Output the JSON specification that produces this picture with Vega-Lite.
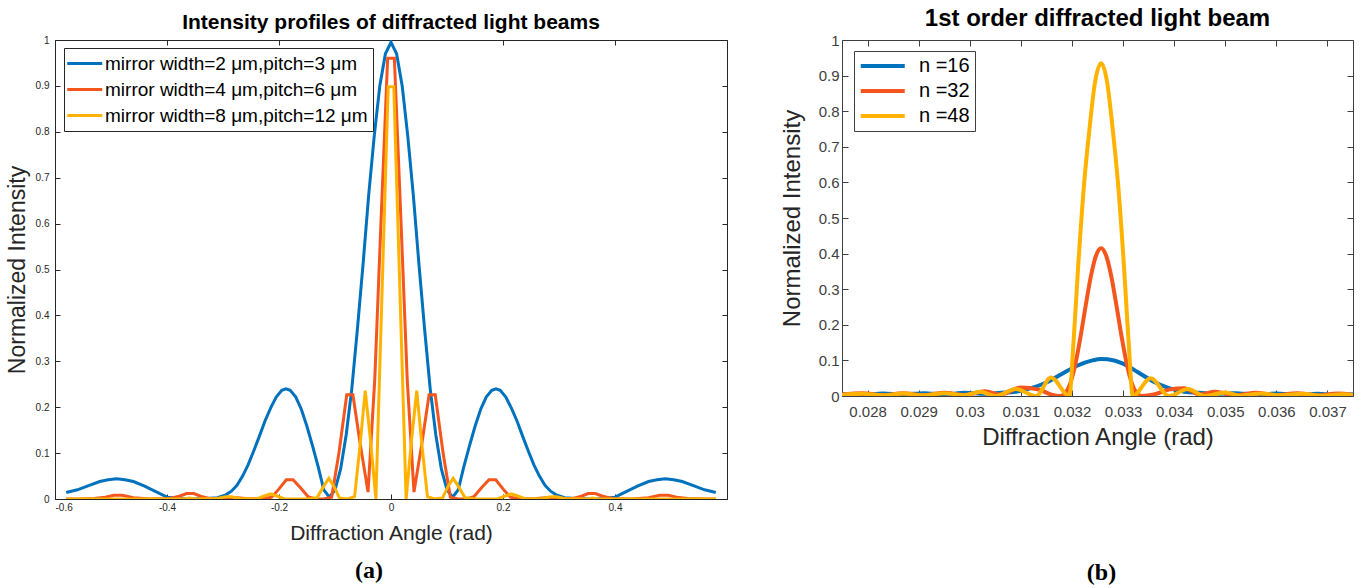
{
  "$schema": "https://vega.github.io/schema/vega-lite/v6.json",
  "background": "white",
  "padding": {"left": 5, "top": 6, "right": 0, "bottom": 0},
  "config": {
    "font": "Liberation Sans",
    "view": {"stroke": null},
    "axis": {"grid": false, "domainColor": "#262626", "tickColor": "#262626", "labelColor": "#262626", "titleColor": "#262626", "titleFontWeight": "normal", "labelFont": "Liberation Sans", "titleFont": "Liberation Sans"},
    "title": {"font": "Liberation Sans", "fontWeight": "bold", "color": "#000", "anchor": "middle"}
  },
  "resolve": {"scale": {"color": "independent"}, "legend": {"color": "independent"}},
  "datasets": {
    "left": [
      {"s":"a","x":-0.58,"y":0.014},{"s":"a","x":-0.56,"y":0.02},{"s":"a","x":-0.54,"y":0.029},{"s":"a","x":-0.52,"y":0.038},{"s":"a","x":-0.505,"y":0.042},{"s":"a","x":-0.49,"y":0.044},{"s":"a","x":-0.475,"y":0.042},{"s":"a","x":-0.46,"y":0.038},{"s":"a","x":-0.44,"y":0.028},{"s":"a","x":-0.42,"y":0.016},{"s":"a","x":-0.40,"y":0.004},{"s":"a","x":-0.38,"y":0.001},{"s":"a","x":-0.36,"y":0.0},{"s":"a","x":-0.33,"y":0.001},{"s":"a","x":-0.31,"y":0.003},{"s":"a","x":-0.295,"y":0.009},{"s":"a","x":-0.285,"y":0.017},{"s":"a","x":-0.275,"y":0.03},{"s":"a","x":-0.265,"y":0.05},{"s":"a","x":-0.255,"y":0.075},{"s":"a","x":-0.245,"y":0.105},{"s":"a","x":-0.235,"y":0.137},{"s":"a","x":-0.225,"y":0.17},{"s":"a","x":-0.215,"y":0.198},{"s":"a","x":-0.205,"y":0.222},{"s":"a","x":-0.195,"y":0.237},{"s":"a","x":-0.1875,"y":0.24},{"s":"a","x":-0.18,"y":0.237},{"s":"a","x":-0.17,"y":0.222},{"s":"a","x":-0.16,"y":0.195},{"s":"a","x":-0.15,"y":0.158},{"s":"a","x":-0.14,"y":0.115},{"s":"a","x":-0.13,"y":0.07},{"s":"a","x":-0.12,"y":0.02},{"s":"a","x":-0.11,"y":0.004},{"s":"a","x":-0.10,"y":0.02},{"s":"a","x":-0.09,"y":0.065},{"s":"a","x":-0.08,"y":0.14},{"s":"a","x":-0.07,"y":0.24},{"s":"a","x":-0.06,"y":0.37},{"s":"a","x":-0.05,"y":0.51},{"s":"a","x":-0.04,"y":0.66},{"s":"a","x":-0.03,"y":0.79},{"s":"a","x":-0.02,"y":0.9},{"s":"a","x":-0.01,"y":0.97},{"s":"a","x":0,"y":0.995},{"s":"a","x":0.01,"y":0.97},{"s":"a","x":0.02,"y":0.9},{"s":"a","x":0.03,"y":0.79},{"s":"a","x":0.04,"y":0.66},{"s":"a","x":0.05,"y":0.51},{"s":"a","x":0.06,"y":0.37},{"s":"a","x":0.07,"y":0.24},{"s":"a","x":0.08,"y":0.14},{"s":"a","x":0.09,"y":0.065},{"s":"a","x":0.10,"y":0.02},{"s":"a","x":0.11,"y":0.004},{"s":"a","x":0.12,"y":0.02},{"s":"a","x":0.13,"y":0.07},{"s":"a","x":0.14,"y":0.115},{"s":"a","x":0.15,"y":0.158},{"s":"a","x":0.16,"y":0.195},{"s":"a","x":0.17,"y":0.222},{"s":"a","x":0.18,"y":0.237},{"s":"a","x":0.1875,"y":0.24},{"s":"a","x":0.195,"y":0.237},{"s":"a","x":0.205,"y":0.222},{"s":"a","x":0.215,"y":0.198},{"s":"a","x":0.225,"y":0.17},{"s":"a","x":0.235,"y":0.137},{"s":"a","x":0.245,"y":0.105},{"s":"a","x":0.255,"y":0.075},{"s":"a","x":0.265,"y":0.05},{"s":"a","x":0.275,"y":0.03},{"s":"a","x":0.285,"y":0.017},{"s":"a","x":0.295,"y":0.009},{"s":"a","x":0.31,"y":0.003},{"s":"a","x":0.33,"y":0.001},{"s":"a","x":0.36,"y":0.0},{"s":"a","x":0.38,"y":0.001},{"s":"a","x":0.40,"y":0.004},{"s":"a","x":0.42,"y":0.016},{"s":"a","x":0.44,"y":0.028},{"s":"a","x":0.46,"y":0.038},{"s":"a","x":0.475,"y":0.042},{"s":"a","x":0.49,"y":0.044},{"s":"a","x":0.505,"y":0.042},{"s":"a","x":0.52,"y":0.038},{"s":"a","x":0.54,"y":0.029},{"s":"a","x":0.56,"y":0.02},{"s":"a","x":0.58,"y":0.014},
      {"s":"b","x":-0.58,"y":0.0},{"s":"b","x":-0.56,"y":0.0},{"s":"b","x":-0.53,"y":0.001},{"s":"b","x":-0.51,"y":0.004},{"s":"b","x":-0.495,"y":0.008},{"s":"b","x":-0.48,"y":0.008},{"s":"b","x":-0.46,"y":0.003},{"s":"b","x":-0.43,"y":0.0},{"s":"b","x":-0.395,"y":0.001},{"s":"b","x":-0.378,"y":0.006},{"s":"b","x":-0.365,"y":0.012},{"s":"b","x":-0.352,"y":0.012},{"s":"b","x":-0.34,"y":0.006},{"s":"b","x":-0.325,"y":0.001},{"s":"b","x":-0.30,"y":0.001},{"s":"b","x":-0.28,"y":0.003},{"s":"b","x":-0.26,"y":0.001},{"s":"b","x":-0.23,"y":0.0},{"s":"b","x":-0.213,"y":0.004},{"s":"b","x":-0.20,"y":0.022},{"s":"b","x":-0.187,"y":0.042},{"s":"b","x":-0.175,"y":0.042},{"s":"b","x":-0.162,"y":0.025},{"s":"b","x":-0.148,"y":0.005},{"s":"b","x":-0.135,"y":0.0},{"s":"b","x":-0.12,"y":0.0},{"s":"b","x":-0.106,"y":0.004},{"s":"b","x":-0.093,"y":0.1},{"s":"b","x":-0.079,"y":0.227},{"s":"b","x":-0.068,"y":0.227},{"s":"b","x":-0.055,"y":0.12},{"s":"b","x":-0.041,"y":0.015},{"s":"b","x":-0.029,"y":0.26},{"s":"b","x":-0.018,"y":0.6},{"s":"b","x":-0.006,"y":0.96},{"s":"b","x":0.006,"y":0.96},{"s":"b","x":0.018,"y":0.6},{"s":"b","x":0.029,"y":0.26},{"s":"b","x":0.041,"y":0.015},{"s":"b","x":0.055,"y":0.12},{"s":"b","x":0.068,"y":0.227},{"s":"b","x":0.079,"y":0.227},{"s":"b","x":0.093,"y":0.1},{"s":"b","x":0.106,"y":0.004},{"s":"b","x":0.12,"y":0.0},{"s":"b","x":0.135,"y":0.0},{"s":"b","x":0.148,"y":0.005},{"s":"b","x":0.162,"y":0.025},{"s":"b","x":0.175,"y":0.042},{"s":"b","x":0.187,"y":0.042},{"s":"b","x":0.20,"y":0.022},{"s":"b","x":0.213,"y":0.004},{"s":"b","x":0.23,"y":0.0},{"s":"b","x":0.26,"y":0.001},{"s":"b","x":0.28,"y":0.003},{"s":"b","x":0.30,"y":0.001},{"s":"b","x":0.325,"y":0.001},{"s":"b","x":0.34,"y":0.006},{"s":"b","x":0.352,"y":0.012},{"s":"b","x":0.365,"y":0.012},{"s":"b","x":0.378,"y":0.006},{"s":"b","x":0.395,"y":0.001},{"s":"b","x":0.43,"y":0.0},{"s":"b","x":0.46,"y":0.003},{"s":"b","x":0.48,"y":0.008},{"s":"b","x":0.495,"y":0.008},{"s":"b","x":0.51,"y":0.004},{"s":"b","x":0.53,"y":0.001},{"s":"b","x":0.56,"y":0.0},{"s":"b","x":0.58,"y":0.0},
      {"s":"c","x":-0.58,"y":0.0},{"s":"c","x":-0.5,"y":0.0},{"s":"c","x":-0.42,"y":0.0},{"s":"c","x":-0.37,"y":0.0},{"s":"c","x":-0.36,"y":0.002},{"s":"c","x":-0.35,"y":0.0},{"s":"c","x":-0.31,"y":0.001},{"s":"c","x":-0.295,"y":0.005},{"s":"c","x":-0.285,"y":0.005},{"s":"c","x":-0.27,"y":0.001},{"s":"c","x":-0.24,"y":0.0},{"s":"c","x":-0.225,"y":0.007},{"s":"c","x":-0.215,"y":0.011},{"s":"c","x":-0.205,"y":0.007},{"s":"c","x":-0.19,"y":0.0},{"s":"c","x":-0.15,"y":0.0},{"s":"c","x":-0.132,"y":0.003},{"s":"c","x":-0.12,"y":0.028},{"s":"c","x":-0.111,"y":0.045},{"s":"c","x":-0.102,"y":0.028},{"s":"c","x":-0.092,"y":0.002},{"s":"c","x":-0.078,"y":0.0},{"s":"c","x":-0.065,"y":0.005},{"s":"c","x":-0.055,"y":0.12},{"s":"c","x":-0.046,"y":0.236},{"s":"c","x":-0.036,"y":0.12},{"s":"c","x":-0.027,"y":0.0},{"s":"c","x":-0.016,"y":0.45},{"s":"c","x":-0.005,"y":0.898},{"s":"c","x":0.005,"y":0.898},{"s":"c","x":0.016,"y":0.45},{"s":"c","x":0.027,"y":0.0},{"s":"c","x":0.036,"y":0.12},{"s":"c","x":0.046,"y":0.236},{"s":"c","x":0.055,"y":0.12},{"s":"c","x":0.065,"y":0.005},{"s":"c","x":0.078,"y":0.0},{"s":"c","x":0.092,"y":0.002},{"s":"c","x":0.102,"y":0.028},{"s":"c","x":0.111,"y":0.045},{"s":"c","x":0.12,"y":0.028},{"s":"c","x":0.132,"y":0.003},{"s":"c","x":0.15,"y":0.0},{"s":"c","x":0.19,"y":0.0},{"s":"c","x":0.205,"y":0.007},{"s":"c","x":0.215,"y":0.011},{"s":"c","x":0.225,"y":0.007},{"s":"c","x":0.24,"y":0.0},{"s":"c","x":0.27,"y":0.001},{"s":"c","x":0.285,"y":0.005},{"s":"c","x":0.295,"y":0.005},{"s":"c","x":0.31,"y":0.001},{"s":"c","x":0.35,"y":0.0},{"s":"c","x":0.36,"y":0.002},{"s":"c","x":0.37,"y":0.0},{"s":"c","x":0.42,"y":0.0},{"s":"c","x":0.5,"y":0.0},{"s":"c","x":0.58,"y":0.0}
    ],
    "right": [
      {"n":16,"x":0.0275,"y":0.005},{"n":16,"x":0.0279,"y":0.003},{"n":16,"x":0.0283,"y":0.007},{"n":16,"x":0.0287,"y":0.004},{"n":16,"x":0.0291,"y":0.008},{"n":16,"x":0.0295,"y":0.004},{"n":16,"x":0.0299,"y":0.009},{"n":16,"x":0.0303,"y":0.006},{"n":16,"x":0.0306,"y":0.009},{"n":16,"x":0.0309,"y":0.012},{"n":16,"x":0.0312,"y":0.022},{"n":16,"x":0.0315,"y":0.038},{"n":16,"x":0.0318,"y":0.062},{"n":16,"x":0.0321,"y":0.085},{"n":16,"x":0.0324,"y":0.1},{"n":16,"x":0.03257,"y":0.104},{"n":16,"x":0.0327,"y":0.103},{"n":16,"x":0.033,"y":0.091},{"n":16,"x":0.0333,"y":0.066},{"n":16,"x":0.0336,"y":0.04},{"n":16,"x":0.0339,"y":0.022},{"n":16,"x":0.0342,"y":0.012},{"n":16,"x":0.0345,"y":0.009},{"n":16,"x":0.0348,"y":0.006},{"n":16,"x":0.0352,"y":0.008},{"n":16,"x":0.0356,"y":0.004},{"n":16,"x":0.036,"y":0.007},{"n":16,"x":0.0364,"y":0.003},{"n":16,"x":0.0368,"y":0.006},{"n":16,"x":0.0372,"y":0.003},{"n":16,"x":0.0375,"y":0.005},
      {"n":32,"x":0.0275,"y":0.004},{"n":32,"x":0.0279,"y":0.008},{"n":32,"x":0.0283,"y":0.002},{"n":32,"x":0.0287,"y":0.008},{"n":32,"x":0.0291,"y":0.002},{"n":32,"x":0.0295,"y":0.009},{"n":32,"x":0.0299,"y":0.003},{"n":32,"x":0.0303,"y":0.013},{"n":32,"x":0.0306,"y":0.004},{"n":32,"x":0.031,"y":0.024},{"n":32,"x":0.03135,"y":0.018},{"n":32,"x":0.0316,"y":0.004},{"n":32,"x":0.03177,"y":0.0},{"n":32,"x":0.03187,"y":0.008},{"n":32,"x":0.03197,"y":0.037},{"n":32,"x":0.03207,"y":0.092},{"n":32,"x":0.03217,"y":0.168},{"n":32,"x":0.03227,"y":0.255},{"n":32,"x":0.03237,"y":0.336},{"n":32,"x":0.03247,"y":0.394},{"n":32,"x":0.03257,"y":0.415},{"n":32,"x":0.03267,"y":0.394},{"n":32,"x":0.03277,"y":0.336},{"n":32,"x":0.03287,"y":0.255},{"n":32,"x":0.03297,"y":0.168},{"n":32,"x":0.03307,"y":0.092},{"n":32,"x":0.03317,"y":0.037},{"n":32,"x":0.03327,"y":0.008},{"n":32,"x":0.03337,"y":0.0},{"n":32,"x":0.0336,"y":0.004},{"n":32,"x":0.0339,"y":0.018},{"n":32,"x":0.0342,"y":0.022},{"n":32,"x":0.0345,"y":0.004},{"n":32,"x":0.0348,"y":0.012},{"n":32,"x":0.0352,"y":0.002},{"n":32,"x":0.0356,"y":0.009},{"n":32,"x":0.036,"y":0.002},{"n":32,"x":0.0364,"y":0.008},{"n":32,"x":0.0368,"y":0.002},{"n":32,"x":0.0372,"y":0.007},{"n":32,"x":0.0375,"y":0.003},
      {"n":48,"x":0.0275,"y":0.003},{"n":48,"x":0.0279,"y":0.006},{"n":48,"x":0.0283,"y":0.002},{"n":48,"x":0.0287,"y":0.007},{"n":48,"x":0.0291,"y":0.002},{"n":48,"x":0.0295,"y":0.008},{"n":48,"x":0.0299,"y":0.002},{"n":48,"x":0.0302,"y":0.012},{"n":48,"x":0.0305,"y":0.0},{"n":48,"x":0.0309,"y":0.02},{"n":48,"x":0.0313,"y":0.0},{"n":48,"x":0.03159,"y":0.052},{"n":48,"x":0.03195,"y":0.0},{"n":48,"x":0.03203,"y":0.15},{"n":48,"x":0.03212,"y":0.36},{"n":48,"x":0.03224,"y":0.6},{"n":48,"x":0.03235,"y":0.76},{"n":48,"x":0.03245,"y":0.88},{"n":48,"x":0.03257,"y":0.935},{"n":48,"x":0.03269,"y":0.88},{"n":48,"x":0.03279,"y":0.76},{"n":48,"x":0.0329,"y":0.6},{"n":48,"x":0.03302,"y":0.36},{"n":48,"x":0.03311,"y":0.15},{"n":48,"x":0.03319,"y":0.0},{"n":48,"x":0.03354,"y":0.05},{"n":48,"x":0.0339,"y":0.0},{"n":48,"x":0.03427,"y":0.02},{"n":48,"x":0.0346,"y":0.0},{"n":48,"x":0.035,"y":0.01},{"n":48,"x":0.0353,"y":0.001},{"n":48,"x":0.0357,"y":0.007},{"n":48,"x":0.0361,"y":0.002},{"n":48,"x":0.0365,"y":0.006},{"n":48,"x":0.0369,"y":0.001},{"n":48,"x":0.0373,"y":0.005},{"n":48,"x":0.0375,"y":0.003}
    ]
  },
  "spacing": 51,
  "hconcat": [
    {
      "spacing": 14,
      "vconcat": [
        {
          "width": 672,
          "height": 459,
          "view": {"stroke": "#262626", "strokeWidth": 1},
          "title": {"text": "Intensity profiles of diffracted light beams", "fontSize": 21, "offset": 2},
          "data": {"name": "left"},
          "layer": [
            {
              "mark": {"type": "line", "strokeWidth": 3, "clip": true},
              "encoding": {
                "x": {"field": "x", "type": "quantitative", "scale": {"domain": [-0.6, 0.6], "nice": false, "zero": false},
                  "axis": {"orient": "bottom", "values": [-0.6, -0.4, -0.2, 0, 0.2, 0.4], "labelExpr": "'' + datum.value", "title": "Diffraction Angle (rad)", "labelFontSize": 10, "titleFontSize": 21, "tickSize": -5, "labelPadding": 8, "titlePadding": 10}},
                "y": {"field": "y", "type": "quantitative", "scale": {"domain": [0, 1], "nice": false},
                  "axis": {"orient": "left", "values": [0, 0.1, 0.2, 0.3, 0.4, 0.5, 0.6, 0.7, 0.8, 0.9, 1], "labelExpr": "'' + datum.value", "title": "Normalized Intensity", "labelFontSize": 10, "titleFontSize": 23, "tickSize": -5, "labelPadding": 11, "titlePadding": 6}},
                "color": {"field": "s", "type": "nominal",
                  "scale": {"domain": ["a", "b", "c"], "range": ["#0072BD", "#F4561D", "#FFB300"]},
                  "legend": {"title": null, "orient": "none", "legendX": 9, "legendY": 8, "symbolType": "M-1.4,0H2.6", "symbolStrokeWidth": 3, "symbolSize": 306, "labelFontSize": 19, "labelColor": "#000", "labelFont": "Liberation Sans", "strokeColor": "#262626", "fillColor": "#ffffff", "padding": 5, "rowPadding": 5, "labelOffset": 15, "labelLimit": 400,
                    "labelExpr": "datum.label == 'a' ? 'mirror width=2 μm,pitch=3 μm' : datum.label == 'b' ? 'mirror width=4 μm,pitch=6 μm' : 'mirror width=8 μm,pitch=12 μm'"}}
              }
            },
            {
              "mark": {"type": "line", "opacity": 0},
              "encoding": {
                "x": {"field": "x", "type": "quantitative", "axis": {"orient": "top", "values": [-0.6, -0.4, -0.2, 0, 0.2, 0.4, 0.6], "labels": false, "domain": false, "title": null, "tickSize": -5}},
                "y": {"field": "y", "type": "quantitative", "axis": {"orient": "right", "values": [0, 0.1, 0.2, 0.3, 0.4, 0.5, 0.6, 0.7, 0.8, 0.9, 1], "labels": false, "domain": false, "title": null, "tickSize": -5}},
                "detail": {"field": "s"}
              }
            }
          ],
          "resolve": {"axis": {"x": "independent", "y": "independent"}}
        },
        {
          "width": 672,
          "height": 26,
          "data": {"values": [{"label": "(a)"}]},
          "mark": {"type": "text", "font": "Liberation Serif", "fontSize": 24, "fontWeight": "bold", "color": "#000", "dx": -22},
          "encoding": {"text": {"field": "label"}}
        }
      ]
    },
    {
      "spacing": 110,
      "vconcat": [
        {
          "width": 511,
          "height": 356,
          "view": {"stroke": "#404040", "strokeWidth": 1},
          "title": {"text": "1st order diffracted light beam", "fontSize": 24, "offset": 2},
          "data": {"name": "right"},
          "layer": [
            {
              "mark": {"type": "line", "strokeWidth": 4, "clip": true, "interpolate": "monotone"},
              "encoding": {
                "x": {"field": "x", "type": "quantitative", "scale": {"domain": [0.0275, 0.0375], "nice": false, "zero": false},
                  "axis": {"orient": "bottom", "values": [0.028, 0.029, 0.03, 0.031, 0.032, 0.033, 0.034, 0.035, 0.036, 0.037], "labelExpr": "'' + datum.value", "title": "Diffraction Angle (rad)", "labelFontSize": 15, "labelColor": "#404040", "titleFontSize": 24, "tickSize": -6, "labelPadding": 14, "titlePadding": 6, "domainColor": "#404040", "tickColor": "#404040"}},
                "y": {"field": "y", "type": "quantitative", "scale": {"domain": [0, 1], "nice": false},
                  "axis": {"orient": "left", "values": [0, 0.1, 0.2, 0.3, 0.4, 0.5, 0.6, 0.7, 0.8, 0.9, 1], "labelExpr": "'' + datum.value", "title": "Normalized Intensity", "labelFontSize": 15, "labelColor": "#404040", "titleFontSize": 24, "tickSize": -6, "labelPadding": 9, "titlePadding": 14, "domainColor": "#404040", "tickColor": "#404040"}},
                "color": {"field": "n", "type": "nominal",
                  "scale": {"domain": [16, 32, 48], "range": ["#0072BD", "#F4561D", "#FFB300"]},
                  "legend": {"title": null, "orient": "none", "legendX": 12, "legendY": 11, "symbolType": "M-1.5,0H6.5", "symbolStrokeWidth": 4, "symbolSize": 121, "labelFontSize": 20, "labelColor": "#000", "labelFont": "Liberation Sans", "strokeColor": "#404040", "fillColor": "#ffffff", "padding": 5, "rowPadding": 5, "labelOffset": 40,
                    "labelExpr": "'n =' + datum.label"}}
              }
            },
            {
              "mark": {"type": "line", "opacity": 0},
              "encoding": {
                "x": {"field": "x", "type": "quantitative", "axis": {"orient": "top", "values": [0.028, 0.029, 0.03, 0.031, 0.032, 0.033, 0.034, 0.035, 0.036, 0.037], "labels": false, "domain": false, "title": null, "tickSize": -6, "tickColor": "#404040"}},
                "y": {"field": "y", "type": "quantitative", "axis": {"orient": "right", "values": [0, 0.1, 0.2, 0.3, 0.4, 0.5, 0.6, 0.7, 0.8, 0.9, 1], "labels": false, "domain": false, "title": null, "tickSize": -6, "tickColor": "#404040"}},
                "detail": {"field": "n"}
              }
            }
          ],
          "resolve": {"axis": {"x": "independent", "y": "independent"}}
        },
        {
          "width": 511,
          "height": 26,
          "data": {"values": [{"label": "(b)"}]},
          "mark": {"type": "text", "font": "Liberation Serif", "fontSize": 24, "fontWeight": "bold", "color": "#000", "dx": 4},
          "encoding": {"text": {"field": "label"}}
        }
      ]
    }
  ]
}
